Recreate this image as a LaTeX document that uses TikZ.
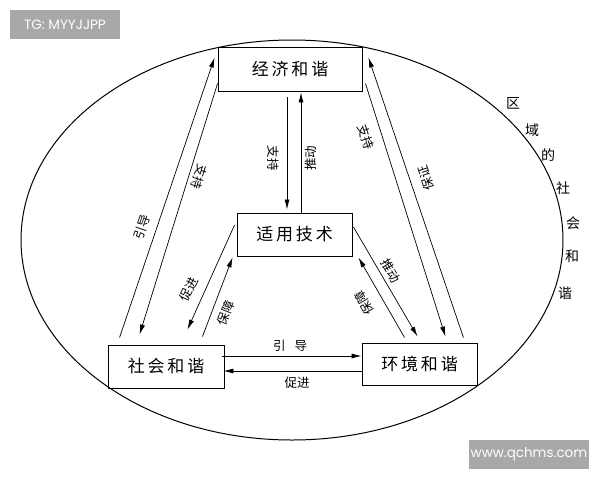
\documentclass[tikz,border=0pt]{standalone}
\usepackage{fontspec}
\setmainfont{Liberation Serif}
\newfontfamily\cjk{Noto Sans CJK SC}
\newfontfamily\wmfont{Poppins}
\usepackage{tikz}
\usetikzlibrary{arrows,arrows.meta,shapes,positioning}
\definecolor{wmgray}{RGB}{168,168,168}

\begin{document}
\begin{tikzpicture}[x=1pt,y=-1pt]
\tikzstyle{harmony} = [rectangle, draw, line width=0.9pt, inner sep=0pt, font=\cjk\fontsize{17}{17}\selectfont];%
\tikzstyle{tag} = [inner sep=0pt, font=\cjk\fontsize{12.5}{12.5}\selectfont];%
\tikzstyle{region} = [inner sep=0pt, font=\cjk\fontsize{14}{14}\selectfont];%
\tikzstyle{link} = [-{Latex[length=10pt,width=5pt]}, line width=0.7pt];%
\tikzstyle{wmark} = [rectangle, fill=wmgray, text=white, inner sep=0pt, font=\wmfont\fontsize{13.5}{13.5}\selectfont];%

\useasboundingbox (0,0) rectangle (600,480);

% outer ellipse
\draw[line width=1pt] (292,240) ellipse [x radius=271, y radius=200];

\node at (290,69)    [harmony, minimum width=144, minimum height=44] (jingji) {经\,济\,和\,谐};
\node at (294.5,234.5) [harmony, minimum width=115, minimum height=43] (shiyong) {适\,用\,技\,术};
\node at (166,366.5) [harmony, minimum width=116, minimum height=43] (shehui) {社\,会\,和\,谐};
\node at (419.5,364) [harmony, minimum width=115, minimum height=42] (huanjing) {环\,境\,和\,谐};

% jingji <-> shiyong
\draw[link] ([xshift=-3pt,yshift=-6pt]jingji.south) -- ([xshift=-7.5pt,yshift=3pt]shiyong.north);
\draw[link] ([xshift=6.5pt]shiyong.north) -- ([xshift=11pt,yshift=-1pt]jingji.south);
\node at (273,158) [tag, rotate=-90] (t1) {支持};
\node at (311,158) [tag, rotate=90] (t2) {推动};

% shehui <-> jingji
\draw[link] ([xshift=12pt,yshift=7pt]shehui.north west) -- ([xshift=-3pt,yshift=-11pt]jingji.north west);
\draw[link] ([yshift=8pt]jingji.south west) -- ([xshift=32pt,yshift=10pt]shehui.north west);
\node at (142,227) [tag, rotate=71] (t3) {引导};
\node at (199,177) [tag, rotate=-107] (t4) {支持};

% huanjing <-> jingji
\draw[link] ([xshift=-14pt,yshift=5pt]huanjing.north east) -- ([xshift=6pt,yshift=-11pt]jingji.north east);
\draw[link] ([xshift=3pt,yshift=8pt]jingji.south east) -- ([xshift=-32pt,yshift=6pt]huanjing.north east);
\node at (366,137) [tag, rotate=-72] (t5) {支持};
\node at (426,178) [tag, rotate=108] (t6) {保证};

% shiyong <-> shehui
\draw[link] ([xshift=-2pt,yshift=9.5pt]shiyong.west) -- ([xshift=-37pt,yshift=15pt]shehui.north east);
\draw[link] ([xshift=-22pt,yshift=8pt]shehui.north east) -- ([xshift=-4pt,yshift=-1pt]shiyong.south west);
\node at (189,289) [tag, rotate=65] (t7) {促进};
\node at (226,313) [tag, rotate=69] (t8) {保障};

% shiyong <-> huanjing
\draw[link] ([xshift=1pt,yshift=7.5pt]shiyong.east) -- ([xshift=56pt,yshift=6pt]huanjing.north west);
\draw[link] ([xshift=43pt,yshift=5pt]huanjing.north west) -- ([xshift=6pt,yshift=-1pt]shiyong.south east);
\node at (391,271) [tag, rotate=-59] (t9) {推动};
\node at (364,303) [tag, rotate=120] (t10) {保障};

% shehui <-> huanjing
\draw[link] ([xshift=-2pt,yshift=10.5pt]shehui.east) -- ([yshift=8pt]huanjing.west);
\draw[link] ([yshift=-7pt]huanjing.west) -- ([xshift=-1pt,yshift=-4.5pt]shehui.east);
\node at (290,346) [tag] (t11) {引\hspace{9pt}导};
\node at (297,383) [tag] (t12) {促进};

% label of the ellipse
\node at (513,103) [region] (r1) {区};
\node at (532,130) [region] (r2) {域};
\node at (548,155) [region] (r3) {的};
\node at (563,188) [region] (r4) {社};
\node at (573,223) [region] (r5) {会};
\node at (572,256) [region] (r6) {和};
\node at (565,293) [region] (r7) {谐};

% watermarks
\node at (65,24.5)  [wmark, minimum width=110, minimum height=29] (wm1) {TG: MYYJJPP};
\node at (529,454.5) [wmark, minimum width=120, minimum height=29] (wm2) {www.qchms.com};

\end{tikzpicture}
\end{document}
